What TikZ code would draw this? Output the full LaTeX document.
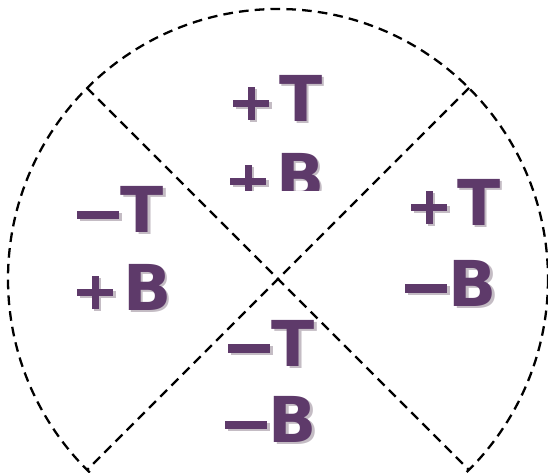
\documentclass[tikz,border=0pt]{standalone}
\usepackage{fontspec}
\setmainfont{DejaVu Sans}
\usepackage{xcolor}
\usepackage{tikz}
\usetikzlibrary{positioning,calc}

\definecolor{signpurple}{HTML}{5E3A6A}
\definecolor{signshadow}{HTML}{C4BCC4}
% sign glyphs drawn from rules, letter after a small gap
\newcommand{\plussign}{\makebox[0.72cm][l]{\rule[0.29cm]{0.72cm}{0.14cm}\hspace{-0.43cm}\rule[0.03cm]{0.14cm}{0.66cm}}\hspace{0.2cm}}
\newcommand{\minussign}{\rule[0.27cm]{0.84cm}{0.17cm}\hspace{0.03cm}}
\newcommand{\shadowed}[1]{\makebox[0pt][l]{\hspace{0.045cm}\raisebox{-0.045cm}{\color{signshadow}#1}}#1}

\begin{document}
\begin{tikzpicture}[
        x=0.02cm, y=-0.02cm,
        sign/.style={
            anchor=base west, inner sep=0pt, text=signpurple,
            font=\fontsize{36}{40}\selectfont\bfseries
          },
        border/.style={draw=black, line width=1.3pt, dash pattern=on 5.5pt off 3.5pt},
      ]
      \useasboundingbox (0,0) rectangle (548,473);
      \clip (0,0) rectangle (548,473);

      % Circle and the two crossing diameters
      \coordinate (c) at (278,279);
      \coordinate (ul) at ($(c)+(-191,-191)$);
      \coordinate (ur) at ($(c)+(191,-191)$);
      \coordinate (ll) at ($(c)+(-191,191)$);
      \coordinate (lr) at ($(c)+(191,191)$);
      \draw [border] (c) circle [radius=270];
      \draw [border] (ul) -- (lr);
      \draw [border] (ur) -- (ll);

      % Top quadrant (second line cut off)
      \node [sign] (topT) at (233,121.5) {\shadowed{\plussign T}};
      \begin{scope}
        \clip (0,0) rectangle (548,191);
        \node [sign] (topB) at (230,199) {\shadowed{\plussign B}};
      \end{scope}

      % Left quadrant
      \node [sign] (leftT) at (77,232.5) {\shadowed{\minussign T}};
      \node [sign] (leftB) at (77,310) {\shadowed{\plussign B}};

      % Right quadrant
      \node [sign] (rightT) at (411,225) {\shadowed{\plussign T}};
      \node [sign] (rightB) at (405,306) {\shadowed{\minussign B}};

      % Bottom quadrant
      \node [sign] (bottomT) at (228,366) {\shadowed{\minussign T}};
      \node [sign] (bottomB) at (225,442.5) {\shadowed{\minussign B}};
    \end{tikzpicture}
\end{document}
